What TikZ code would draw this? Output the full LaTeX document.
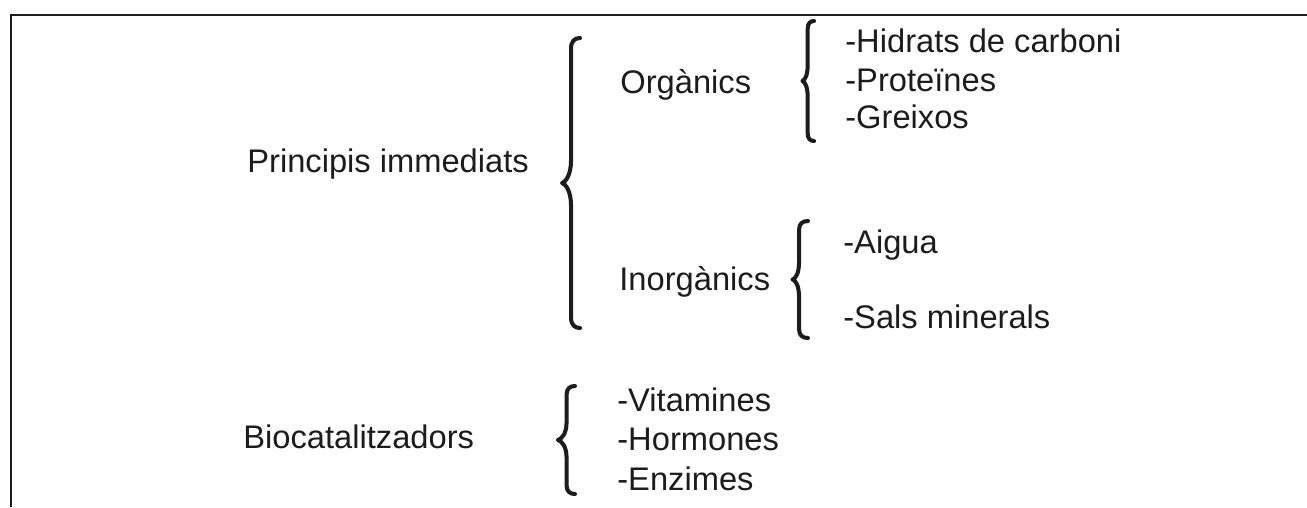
\documentclass[tikz,border=0pt]{standalone}
\usepackage{fontspec}
\setmainfont{Liberation Sans}
\usetikzlibrary{calc}
\definecolor{inkgray}{RGB}{28,28,28}

\begin{document}
\begin{tikzpicture}[
    x=0.02cm, y=-0.02cm,
    term/.style={anchor=base west, inner sep=0pt, font=\fontsize{18.6}{22}\selectfont, text=inkgray},
    % clau: #1 = cos, #2 = punta, #3 = corba dels extrems, #4 = corba de la punta
    curly/.style n args={4}{draw=inkgray, line width=2.3pt, line cap=round, line join=round,
      to path={let \p1=(\tikztostart), \p2=(\tikztotarget),
        \p3=($(\tikztostart)!.5!(\tikztotarget)$) in
        (\x1,\y1) .. controls (\x1-.6*#1,\y1) and (\x1-#1,\y1-.3*#3) .. (\x1-#1,\y1-#3)
        -- (\x1-#1,\y3+#4) .. controls (\x1-#1,\y3+.35*#4) and (\x1-.8*#2,\y3+.05*#4) .. (\x1-#2,\y3)
        .. controls (\x1-.8*#2,\y3-.05*#4) and (\x1-#1,\y3-.35*#4) .. (\x1-#1,\y3-#4)
        -- (\x1-#1,\y2+#3) .. controls (\x1-#1,\y2+.3*#3) and (\x1-.6*#1,\y2) .. (\x2,\y2)}},
    frameline/.style={draw=inkgray, line width=1.3pt},
  ]
    \useasboundingbox (0,0) rectangle (1307,507);

    % Marc (obert per baix i per la dreta)
    \coordinate (fbot)    at (11,507);
    \coordinate (fcorner) at (11,15);
    \coordinate (fright)  at (1307,15);
    \draw[frameline] (fbot) -- (fcorner) -- (fright);

    % Primer nivell
    \node[term] (princ) at (247,172) {Principis immediats};
    \node[term] (bio)   at (243,448) {Biocatalitzadors};

    % Segon nivell
    \node[term] (organ)   at (620,93)  {Orgànics};
    \node[term] (inorgan) at (619,290) {Inorgànics};

    % Fulles
    \node[term] (hidrats)  at (845,52)  {-Hidrats de carboni};
    \node[term] (proteina) at (845,91)  {-Proteïnes};
    \node[term] (greix)    at (845,128) {-Greixos};
    \node[term] (aigua)    at (843,253) {-Aigua};
    \node[term] (sals)     at (843,328) {-Sals minerals};
    \node[term] (vitam)    at (617,411) {-Vitamines};
    \node[term] (hormon)   at (617,450) {-Hormones};
    \node[term] (enzim)    at (617,490) {-Enzimes};

    % Claus
    \coordinate (bigtop) at (580,38);  \coordinate (bigbot) at (580,328);
    \coordinate (orgtop) at (814,21);  \coordinate (orgbot) at (814,141);
    \coordinate (inotop) at (808,221); \coordinate (inobot) at (808,338);
    \coordinate (biotop) at (575,386); \coordinate (biobot) at (575,494);

    \draw[curly={5.1pt}{10.2pt}{6pt}{13pt}]  (bigtop) to (bigbot);
    \draw[curly={3.6pt}{6.6pt}{4.5pt}{9pt}]  (orgtop) to (orgbot);
    \draw[curly={5.1pt}{8.8pt}{5pt}{10pt}]   (inotop) to (inobot);
    \draw[curly={4.8pt}{9.7pt}{5pt}{10pt}]   (biotop) to (biobot);
  \end{tikzpicture}
\end{document}
